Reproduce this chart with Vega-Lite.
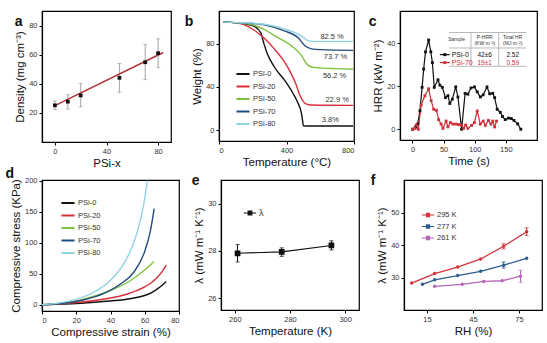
{
  "$schema": "https://vega.github.io/schema/vega-lite/v6.json",
  "padding": {"left": 4, "top": 10, "right": 2, "bottom": 0},
  "background": "white",
  "config": {
    "font": "Liberation Sans",
    "view": {"stroke": "black", "strokeWidth": 1.2},
    "axis": {"grid": false, "domainColor": "black", "domainWidth": 1.2, "tickColor": "black", "tickSize": 3, "labelFontSize": 7.5, "labelColor": "#333", "labelPadding": 2, "titleFontSize": 11.5, "titleFontWeight": "normal", "titleColor": "#111", "titlePadding": 3},
    "title": {"fontSize": 14, "fontWeight": "bold", "anchor": "start", "frame": "bounds", "offset": -12, "color": "#111"},
    "legend": {"labelFontSize": 7.5, "labelColor": "#333", "rowPadding": 0.5, "labelOffset": 2}
  },
  "datasets": {
    "a_pts": [
      {"x": 0, "y": 25.2, "lo": 22.2, "hi": 28.2},
      {"x": 10, "y": 27.7, "lo": 22.6, "hi": 32.5},
      {"x": 20, "y": 32.0, "lo": 24.1, "hi": 40.2},
      {"x": 50, "y": 44.1, "lo": 34.2, "hi": 54.0},
      {"x": 70, "y": 54.8, "lo": 42.8, "hi": 66.9},
      {"x": 80, "y": 61.0, "lo": 51.0, "hi": 70.9}
    ],
    "a_fit": [{"x": 0, "y": 25.0}, {"x": 84, "y": 61.5}],
    "b_tga": [
      {"s": "PSi-0", "T": 25, "W": 100}, {"s": "PSi-0", "T": 100, "W": 99}, {"s": "PSi-0", "T": 150, "W": 98.2}, {"s": "PSi-0", "T": 207, "W": 96}, {"s": "PSi-0", "T": 247, "W": 90}, {"s": "PSi-0", "T": 267, "W": 79.4}, {"s": "PSi-0", "T": 287, "W": 70.4}, {"s": "PSi-0", "T": 328, "W": 58.3}, {"s": "PSi-0", "T": 388, "W": 46.2}, {"s": "PSi-0", "T": 438, "W": 34.1}, {"s": "PSi-0", "T": 468, "W": 25}, {"s": "PSi-0", "T": 488, "W": 16}, {"s": "PSi-0", "T": 496, "W": 8}, {"s": "PSi-0", "T": 500, "W": 4}, {"s": "PSi-0", "T": 530, "W": 3.8}, {"s": "PSi-0", "T": 650, "W": 3.9}, {"s": "PSi-0", "T": 795, "W": 3.8},
      {"s": "PSi-20", "T": 25, "W": 100}, {"s": "PSi-20", "T": 100, "W": 99}, {"s": "PSi-20", "T": 147, "W": 97.5}, {"s": "PSi-20", "T": 207, "W": 92.5}, {"s": "PSi-20", "T": 267, "W": 85}, {"s": "PSi-20", "T": 328, "W": 75}, {"s": "PSi-20", "T": 388, "W": 63}, {"s": "PSi-20", "T": 428, "W": 52.2}, {"s": "PSi-20", "T": 458, "W": 41.7}, {"s": "PSi-20", "T": 478, "W": 32.6}, {"s": "PSi-20", "T": 499, "W": 26.6}, {"s": "PSi-20", "T": 519, "W": 24}, {"s": "PSi-20", "T": 545, "W": 23.2}, {"s": "PSi-20", "T": 650, "W": 23}, {"s": "PSi-20", "T": 795, "W": 22.9},
      {"s": "PSi-50", "T": 25, "W": 100}, {"s": "PSi-50", "T": 100, "W": 99.2}, {"s": "PSi-50", "T": 187, "W": 97.8}, {"s": "PSi-50", "T": 267, "W": 93}, {"s": "PSi-50", "T": 348, "W": 85.5}, {"s": "PSi-50", "T": 428, "W": 78}, {"s": "PSi-50", "T": 488, "W": 69}, {"s": "PSi-50", "T": 519, "W": 61.3}, {"s": "PSi-50", "T": 549, "W": 58.3}, {"s": "PSi-50", "T": 600, "W": 57.5}, {"s": "PSi-50", "T": 700, "W": 56.8}, {"s": "PSi-50", "T": 795, "W": 56.2},
      {"s": "PSi-70", "T": 25, "W": 100}, {"s": "PSi-70", "T": 100, "W": 99.3}, {"s": "PSi-70", "T": 200, "W": 98.5}, {"s": "PSi-70", "T": 267, "W": 97.3}, {"s": "PSi-70", "T": 388, "W": 91.6}, {"s": "PSi-70", "T": 468, "W": 85.5}, {"s": "PSi-70", "T": 509, "W": 78}, {"s": "PSi-70", "T": 549, "W": 75}, {"s": "PSi-70", "T": 600, "W": 74.3}, {"s": "PSi-70", "T": 795, "W": 73.7},
      {"s": "PSi-80", "T": 25, "W": 100}, {"s": "PSi-80", "T": 100, "W": 99.3}, {"s": "PSi-80", "T": 200, "W": 98.8}, {"s": "PSi-80", "T": 267, "W": 97.8}, {"s": "PSi-80", "T": 388, "W": 93.5}, {"s": "PSi-80", "T": 488, "W": 87}, {"s": "PSi-80", "T": 529, "W": 82.6}, {"s": "PSi-80", "T": 560, "W": 82}, {"s": "PSi-80", "T": 795, "W": 82}
    ],
    "b_lab": [
      {"x": 670, "y": 86, "t": "82.5  %"},
      {"x": 690, "y": 67.4, "t": "73.7 %"},
      {"x": 685, "y": 49.9, "t": "56.2 %"},
      {"x": 700, "y": 28, "t": "22.9 %"},
      {"x": 660, "y": 9.3, "t": "3.8%"}
    ],
    "c_hrr": [
      {"s": "PSi-0", "t": 0, "h": 0}, {"s": "PSi-0", "t": 5, "h": 1}, {"s": "PSi-0", "t": 8.5, "h": 2.5}, {"s": "PSi-0", "t": 12, "h": 8.6}, {"s": "PSi-0", "t": 15.5, "h": 19.5}, {"s": "PSi-0", "t": 18, "h": 28}, {"s": "PSi-0", "t": 21, "h": 36}, {"s": "PSi-0", "t": 26, "h": 41.5}, {"s": "PSi-0", "t": 29.5, "h": 36}, {"s": "PSi-0", "t": 32, "h": 31}, {"s": "PSi-0", "t": 35, "h": 19.5}, {"s": "PSi-0", "t": 41, "h": 23}, {"s": "PSi-0", "t": 44, "h": 20.5}, {"s": "PSi-0", "t": 48, "h": 19.5}, {"s": "PSi-0", "t": 53, "h": 14.7}, {"s": "PSi-0", "t": 57, "h": 15.6}, {"s": "PSi-0", "t": 60, "h": 12}, {"s": "PSi-0", "t": 64, "h": 14}, {"s": "PSi-0", "t": 69.5, "h": 19.7}, {"s": "PSi-0", "t": 73, "h": 15}, {"s": "PSi-0", "t": 79, "h": 0}, {"s": "PSi-0", "t": 84.5, "h": 16.7}, {"s": "PSi-0", "t": 89, "h": 16.3}, {"s": "PSi-0", "t": 94, "h": 19.2}, {"s": "PSi-0", "t": 99.5, "h": 19.7}, {"s": "PSi-0", "t": 104, "h": 17.4}, {"s": "PSi-0", "t": 109, "h": 15}, {"s": "PSi-0", "t": 113.6, "h": 16}, {"s": "PSi-0", "t": 119.7, "h": 19.7}, {"s": "PSi-0", "t": 124, "h": 16.5}, {"s": "PSi-0", "t": 129, "h": 16.7}, {"s": "PSi-0", "t": 132, "h": 14.7}, {"s": "PSi-0", "t": 136, "h": 9.3}, {"s": "PSi-0", "t": 141, "h": 7.9}, {"s": "PSi-0", "t": 144.6, "h": 5.9}, {"s": "PSi-0", "t": 149, "h": 4.5}, {"s": "PSi-0", "t": 154, "h": 5.2}, {"s": "PSi-0", "t": 158.7, "h": 5}, {"s": "PSi-0", "t": 163, "h": 4.1}, {"s": "PSi-0", "t": 169, "h": 2.5}, {"s": "PSi-0", "t": 174, "h": 0},
      {"s": "PSi-70", "t": 0, "h": 0}, {"s": "PSi-70", "t": 4, "h": 0.4}, {"s": "PSi-70", "t": 6, "h": 2}, {"s": "PSi-70", "t": 9.4, "h": 0}, {"s": "PSi-70", "t": 14, "h": 11.3}, {"s": "PSi-70", "t": 20, "h": 15.6}, {"s": "PSi-70", "t": 26, "h": 18.8}, {"s": "PSi-70", "t": 30, "h": 13.3}, {"s": "PSi-70", "t": 34, "h": 9.3}, {"s": "PSi-70", "t": 38.5, "h": 8.8}, {"s": "PSi-70", "t": 42, "h": 4.5}, {"s": "PSi-70", "t": 46, "h": 2.4}, {"s": "PSi-70", "t": 49, "h": 0.4}, {"s": "PSi-70", "t": 54, "h": 3.8}, {"s": "PSi-70", "t": 57, "h": 1.1}, {"s": "PSi-70", "t": 61, "h": 3.1}, {"s": "PSi-70", "t": 65, "h": 2.4}, {"s": "PSi-70", "t": 69.5, "h": 2.4}, {"s": "PSi-70", "t": 74, "h": 2.2}, {"s": "PSi-70", "t": 79, "h": 1.8}, {"s": "PSi-70", "t": 82, "h": 0.4}, {"s": "PSi-70", "t": 85.4, "h": 2}, {"s": "PSi-70", "t": 89, "h": 0.4}, {"s": "PSi-70", "t": 95, "h": 1.8}, {"s": "PSi-70", "t": 99.5, "h": 3.1}, {"s": "PSi-70", "t": 104, "h": 8.5}, {"s": "PSi-70", "t": 109, "h": 2.4}, {"s": "PSi-70", "t": 113.6, "h": 3.8}, {"s": "PSi-70", "t": 117, "h": 1.8}, {"s": "PSi-70", "t": 122, "h": 4.1}, {"s": "PSi-70", "t": 126, "h": 2.4}, {"s": "PSi-70", "t": 129, "h": 3.8}, {"s": "PSi-70", "t": 132, "h": 1.1}, {"s": "PSi-70", "t": 135, "h": 3.8}
    ],
    "c_hl": [{"x": 58.7, "x2": 183, "y": 45}, {"x": 58.7, "x2": 183, "y": 37.8}, {"x": 58.7, "x2": 183, "y": 29.3}],
    "c_vl": [{"x": 94, "y": 45, "y2": 29.3}, {"x": 138.5, "y": 45, "y2": 29.3}],
    "c_leg": [{"s": "PSi-0", "x": 44, "x2": 60, "xm": 52, "y": 34.7}, {"s": "PSi-70", "x": 44, "x2": 60, "xm": 52, "y": 31}],
    "c_head": [
      {"x": 71, "y": 41.9, "t": "Sample"},
      {"x": 116, "y": 42.7, "t": "P-HRR"},
      {"x": 116, "y": 40.0, "t": "(KW m⁻²)"},
      {"x": 161, "y": 42.7, "t": "Total HR"},
      {"x": 161, "y": 40.0, "t": "(MJ m⁻²)"}
    ],
    "c_row": [
      {"s": "PSi-0", "x": 63, "y": 34.7, "a": "PSi-0", "p": "42±6", "q": "2.52"},
      {"s": "PSi-70", "x": 63, "y": 31, "a": "PSi-70", "p": "19±1", "q": "0.59"}
    ],
    "d_ss": [
      {"s": "PSi-0", "e": 0, "p": 0}, {"s": "PSi-0", "e": 10, "p": 1}, {"s": "PSi-0", "e": 20, "p": 2}, {"s": "PSi-0", "e": 35.8, "p": 5.3}, {"s": "PSi-0", "e": 49.5, "p": 9}, {"s": "PSi-0", "e": 59.4, "p": 14.5}, {"s": "PSi-0", "e": 64, "p": 19.5}, {"s": "PSi-0", "e": 67.2, "p": 25.2}, {"s": "PSi-0", "e": 70, "p": 31}, {"s": "PSi-0", "e": 72.5, "p": 37.6},
      {"s": "PSi-20", "e": 0, "p": 0}, {"s": "PSi-20", "e": 10, "p": 1.5}, {"s": "PSi-20", "e": 20, "p": 3.7}, {"s": "PSi-20", "e": 35.8, "p": 9}, {"s": "PSi-20", "e": 49.5, "p": 17}, {"s": "PSi-20", "e": 59.4, "p": 28}, {"s": "PSi-20", "e": 64, "p": 36}, {"s": "PSi-20", "e": 67.2, "p": 44}, {"s": "PSi-20", "e": 70, "p": 53}, {"s": "PSi-20", "e": 72.5, "p": 64},
      {"s": "PSi-50", "e": 0, "p": 0}, {"s": "PSi-50", "e": 8, "p": 1.8}, {"s": "PSi-50", "e": 16.2, "p": 4.2}, {"s": "PSi-50", "e": 27.9, "p": 11.8}, {"s": "PSi-50", "e": 39.7, "p": 22.6}, {"s": "PSi-50", "e": 51.5, "p": 38.7}, {"s": "PSi-50", "e": 59.4, "p": 54.8}, {"s": "PSi-50", "e": 62.5, "p": 62}, {"s": "PSi-50", "e": 65.3, "p": 69.8},
      {"s": "PSi-70", "e": 0, "p": 0}, {"s": "PSi-70", "e": 12.2, "p": 2.5}, {"s": "PSi-70", "e": 24, "p": 7.8}, {"s": "PSi-70", "e": 35.8, "p": 18}, {"s": "PSi-70", "e": 45.6, "p": 33}, {"s": "PSi-70", "e": 53.5, "p": 52}, {"s": "PSi-70", "e": 59.4, "p": 81.6}, {"s": "PSi-70", "e": 63.3, "p": 119}, {"s": "PSi-70", "e": 65.5, "p": 155},
      {"s": "PSi-80", "e": 0, "p": 0}, {"s": "PSi-80", "e": 10.2, "p": 3}, {"s": "PSi-80", "e": 20, "p": 9}, {"s": "PSi-80", "e": 29.9, "p": 19.8}, {"s": "PSi-80", "e": 39.7, "p": 38.7}, {"s": "PSi-80", "e": 47.6, "p": 65.5}, {"s": "PSi-80", "e": 52.5, "p": 92.4}, {"s": "PSi-80", "e": 56.4, "p": 124.7}, {"s": "PSi-80", "e": 59.4, "p": 162}, {"s": "PSi-80", "e": 61.5, "p": 200}
    ],
    "e_pts": [
      {"s": "λ", "T": 261, "l": 27.9, "lo": 27.53, "hi": 28.27},
      {"s": "λ", "T": 277, "l": 27.96, "lo": 27.77, "hi": 28.13},
      {"s": "λ", "T": 295, "l": 28.23, "lo": 28.04, "hi": 28.43}
    ],
    "f_pts": [
      {"s": "295 K", "rh": 5, "l": 28.3}, {"s": "295 K", "rh": 20, "l": 31.2}, {"s": "295 K", "rh": 35, "l": 33.2}, {"s": "295 K", "rh": 50, "l": 35.7}, {"s": "295 K", "rh": 65, "l": 39.6}, {"s": "295 K", "rh": 80, "l": 44.1},
      {"s": "277 K", "rh": 12, "l": 27.9}, {"s": "277 K", "rh": 20, "l": 29.3}, {"s": "277 K", "rh": 35, "l": 30.6}, {"s": "277 K", "rh": 50, "l": 31.9}, {"s": "277 K", "rh": 65, "l": 33.8}, {"s": "277 K", "rh": 80, "l": 35.9},
      {"s": "261 K", "rh": 20, "l": 27.3}, {"s": "261 K", "rh": 38, "l": 27.9}, {"s": "261 K", "rh": 52, "l": 28.8}, {"s": "261 K", "rh": 64, "l": 29.0}, {"s": "261 K", "rh": 76, "l": 30.4}
    ],
    "f_err": [
      {"s": "295 K", "rh": 65, "lo": 38.8, "hi": 40.4},
      {"s": "295 K", "rh": 80, "lo": 42.9, "hi": 45.3},
      {"s": "277 K", "rh": 65, "lo": 32.9, "hi": 34.8},
      {"s": "261 K", "rh": 76, "lo": 28.5, "hi": 32.2}
    ]
  },
  "spacing": -4,
  "resolve": {"scale": {"color": "independent", "stroke": "independent"}, "legend": {"color": "independent", "stroke": "independent"}},
  "vconcat": [
    {
      "spacing": 12,
      "resolve": {"scale": {"color": "independent", "stroke": "independent"}, "legend": {"color": "independent", "stroke": "independent"}},
      "hconcat": [
        {
          "width": 129, "height": 131,
          "title": {"text": "a", "dy": 6},
          "layer": [
            {"data": {"name": "a_pts"},
             "mark": {"type": "errorbar", "ticks": true, "size": 4, "color": "#8c8c8c", "thickness": 0.8},
             "encoding": {
               "x": {"field": "x", "type": "quantitative", "scale": {"domain": [-5, 85]}, "axis": {"values": [0, 20, 40, 60, 80], "title": "PSi-x"}},
               "y": {"field": "lo", "type": "quantitative", "scale": {"domain": [5, 90]}, "axis": {"values": [20, 40, 60, 80], "title": "Density (mg cm⁻³)"}},
               "y2": {"field": "hi"}}},
            {"data": {"name": "a_fit"},
             "mark": {"type": "line", "color": "#b3343c", "strokeWidth": 1.5},
             "encoding": {"x": {"field": "x", "type": "quantitative"}, "y": {"field": "y", "type": "quantitative"}}},
            {"data": {"name": "a_pts"},
             "mark": {"type": "point", "filled": true, "shape": "square", "size": 14, "color": "#111", "opacity": 1},
             "encoding": {"x": {"field": "x", "type": "quantitative"}, "y": {"field": "y", "type": "quantitative"}}}
          ]
        },
        {
          "width": 135, "height": 130,
          "title": {"text": "b", "dx": -7, "dy": 6},
          "layer": [
            {"data": {"name": "b_tga"},
             "mark": {"type": "line", "strokeWidth": 1.4, "interpolate": "monotone", "clip": true},
             "encoding": {
               "x": {"field": "T", "type": "quantitative", "scale": {"domain": [0, 800]}, "axis": {"values": [0, 200, 400, 600, 800], "title": "Temperature (°C)"}},
               "y": {"field": "W", "type": "quantitative", "scale": {"domain": [-9, 109]}, "axis": {"values": [0, 20, 40, 60, 80, 100], "title": "Weight (%)"}},
               "color": {"field": "s", "type": "nominal", "scale": {"domain": ["PSi-0", "PSi-20", "PSi-50", "PSi-70", "PSi-80"], "range": ["#111111", "#d8303a", "#7fc241", "#23497e", "#8fd3e3"]},
                 "legend": {"title": null, "orient": "none", "legendX": 16, "legendY": 55, "symbolType": "stroke", "symbolSize": 170, "symbolStrokeWidth": 2}}}},
            {"data": {"name": "b_lab"},
             "mark": {"type": "text", "fontSize": 7.5, "color": "#333"},
             "encoding": {"x": {"field": "x", "type": "quantitative"}, "y": {"field": "y", "type": "quantitative"}, "text": {"field": "t"}}}
          ]
        },
        {
          "width": 137, "height": 129,
          "title": {"text": "c", "dx": -4, "dy": 6},
          "layer": [
            {"data": {"name": "c_hrr"},
             "mark": {"type": "line", "strokeWidth": 1.2, "point": {"shape": "square", "size": 8, "filled": true}},
             "encoding": {
               "x": {"field": "t", "type": "quantitative", "scale": {"domain": [-5, 188]}, "axis": {"values": [0, 50, 100, 150], "title": "Time (s)"}},
               "y": {"field": "h", "type": "quantitative", "scale": {"domain": [-2.5, 50.5]}, "axis": {"values": [0, 10, 20, 30, 40, 50], "title": "HRR (kW m⁻²)"}},
               "color": {"field": "s", "type": "nominal", "scale": {"domain": ["PSi-0", "PSi-70"], "range": ["#111111", "#d0303a"]}, "legend": null}}},
            {"data": {"name": "c_hl"},
             "mark": {"type": "rule", "color": "#999", "strokeWidth": 0.7},
             "encoding": {"x": {"field": "x", "type": "quantitative"}, "x2": {"field": "x2"}, "y": {"field": "y", "type": "quantitative"}}},
            {"data": {"name": "c_vl"},
             "mark": {"type": "rule", "color": "#999", "strokeWidth": 0.7},
             "encoding": {"x": {"field": "x", "type": "quantitative"}, "y": {"field": "y", "type": "quantitative"}, "y2": {"field": "y2"}}},
            {"data": {"name": "c_leg"},
             "mark": {"type": "rule", "strokeWidth": 1.2},
             "encoding": {"x": {"field": "x", "type": "quantitative"}, "x2": {"field": "x2"}, "y": {"field": "y", "type": "quantitative"},
               "color": {"field": "s", "type": "nominal", "legend": null}}},
            {"data": {"name": "c_leg"},
             "mark": {"type": "point", "shape": "square", "size": 9, "filled": true, "opacity": 1},
             "encoding": {"x": {"field": "xm", "type": "quantitative"}, "y": {"field": "y", "type": "quantitative"},
               "color": {"field": "s", "type": "nominal", "legend": null}}},
            {"data": {"name": "c_head"},
             "mark": {"type": "text", "fontSize": 5, "color": "#333"},
             "encoding": {"x": {"field": "x", "type": "quantitative"}, "y": {"field": "y", "type": "quantitative"}, "text": {"field": "t"}}},
            {"data": {"name": "c_row"},
             "mark": {"type": "text", "fontSize": 7, "align": "left"},
             "encoding": {"x": {"field": "x", "type": "quantitative"}, "y": {"field": "y", "type": "quantitative"}, "text": {"field": "a"},
               "color": {"field": "s", "type": "nominal", "legend": null}}},
            {"data": {"name": "c_row"},
             "mark": {"type": "text", "fontSize": 6.5},
             "encoding": {"x": {"datum": 116}, "y": {"field": "y", "type": "quantitative"}, "text": {"field": "p"},
               "color": {"field": "s", "type": "nominal", "legend": null}}},
            {"data": {"name": "c_row"},
             "mark": {"type": "text", "fontSize": 6.5},
             "encoding": {"x": {"datum": 161}, "y": {"field": "y", "type": "quantitative"}, "text": {"field": "q"},
               "color": {"field": "s", "type": "nominal", "legend": null}}}
          ]
        }
      ]
    },
    {
      "spacing": 10,
      "resolve": {"scale": {"color": "independent", "stroke": "independent"}, "legend": {"color": "independent", "stroke": "independent"}},
      "hconcat": [
        {
          "width": 137, "height": 131,
          "title": {"text": "d", "dx": -5, "offset": -4},
          "layer": [
            {"data": {"name": "d_ss"},
             "mark": {"type": "line", "strokeWidth": 1.4, "interpolate": "monotone", "clip": true},
             "encoding": {
               "x": {"field": "e", "type": "quantitative", "scale": {"domain": [0, 80]}, "axis": {"values": [0, 20, 40, 60, 80], "title": "Compressive strain (%)"}},
               "y": {"field": "p", "type": "quantitative", "scale": {"domain": [-10, 201]}, "axis": {"values": [0, 50, 100, 150, 200], "title": "Compressive stress (KPa)"}},
               "color": {"field": "s", "type": "nominal", "scale": {"domain": ["PSi-0", "PSi-20", "PSi-50", "PSi-70", "PSi-80"], "range": ["#111111", "#d8303a", "#7fc241", "#23497e", "#8fd3e3"]},
                 "legend": {"title": null, "orient": "none", "legendX": 18, "legendY": 15, "symbolType": "stroke", "symbolSize": 170, "symbolStrokeWidth": 2}}}}
          ]
        },
        {
          "width": 138, "height": 130,
          "title": {"text": "e", "dx": -2, "offset": -8},
          "layer": [
            {"data": {"name": "e_pts"},
             "mark": {"type": "errorbar", "ticks": true, "size": 4, "color": "#111", "thickness": 1},
             "encoding": {
               "x": {"field": "T", "type": "quantitative", "scale": {"domain": [256, 301]}, "axis": {"values": [260, 270, 280, 290, 300], "title": "Temperature (K)"}},
               "y": {"field": "lo", "type": "quantitative", "scale": {"domain": [25.8, 31]}, "axis": {"values": [26, 28, 30], "title": "λ (mW m⁻¹ K⁻¹)"}},
               "y2": {"field": "hi"}}},
            {"data": {"name": "e_pts"},
             "mark": {"type": "line", "strokeWidth": 1.2, "color": "#111", "point": {"shape": "square", "size": 14, "filled": true, "color": "#111"}},
             "encoding": {"x": {"field": "T", "type": "quantitative"}, "y": {"field": "l", "type": "quantitative"},
               "stroke": {"field": "s", "type": "nominal", "scale": {"range": ["#111"]},
                 "legend": {"title": null, "orient": "none", "legendX": 22, "legendY": 26, "labelFontSize": 9, "symbolType": "M-1,0H1M-0.3,-0.3H0.3V0.3H-0.3Z", "symbolSize": 150, "symbolStrokeWidth": 1.2, "symbolFillColor": "#111"}}}}
          ]
        },
        {
          "width": 138, "height": 130,
          "title": {"text": "f", "dx": -6, "offset": -8},
          "layer": [
            {"data": {"name": "f_err"},
             "mark": {"type": "errorbar", "ticks": true, "size": 4, "thickness": 1},
             "encoding": {
               "x": {"field": "rh", "type": "quantitative", "scale": {"domain": [0, 85]}, "axis": {"values": [15, 30, 45, 60, 75], "title": "RH (%)"}},
               "y": {"field": "lo", "type": "quantitative", "scale": {"domain": [25, 55]}, "axis": {"values": [30, 40, 50], "title": "λ (mW m⁻¹ K⁻¹)"}},
               "y2": {"field": "hi"},
               "color": {"field": "s", "type": "nominal", "scale": {"domain": ["295 K", "277 K", "261 K"], "range": ["#d3353a", "#2d5d8f", "#b566b8"]}}}},
            {"data": {"name": "f_pts"},
             "mark": {"type": "line", "strokeWidth": 1.3, "point": {"shape": "circle", "size": 12, "filled": true}},
             "encoding": {"x": {"field": "rh", "type": "quantitative"}, "y": {"field": "l", "type": "quantitative"},
               "color": {"field": "s", "type": "nominal",
                 "legend": {"title": null, "orient": "none", "legendX": 17, "legendY": 28, "symbolType": "M-1,0H1M-0.25,-0.25H0.25V0.25H-0.25Z", "symbolSize": 150, "symbolStrokeWidth": 1.2,
                   "encode": {"symbols": {"update": {"fill": {"signal": "datum.value === '295 K' ? '#d3353a' : datum.value === '277 K' ? '#2d5d8f' : '#b566b8'"}}}}}}}}
          ]
        }
      ]
    }
  ]
}
